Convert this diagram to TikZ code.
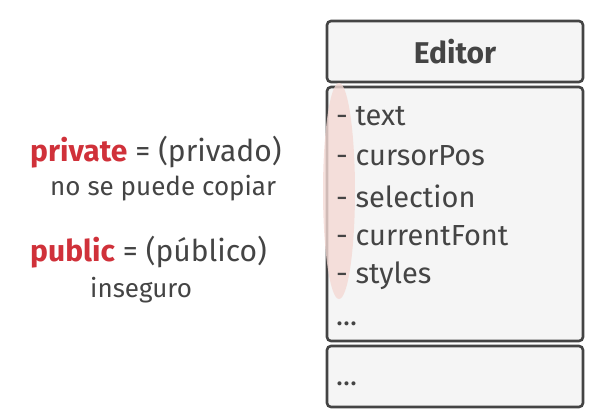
\documentclass[tikz,border=0pt]{standalone}
\usepackage{fontspec}
\setmainfont{Fira Sans}
\usetikzlibrary{positioning}

\definecolor{ink}{HTML}{444444}
\definecolor{boxfill}{HTML}{F5F5F5}
\definecolor{keyred}{HTML}{D0313A}
\definecolor{marker}{HTML}{F4D9D4}

\tikzset{
    umlpart/.style={draw=ink, line width=2.6pt, fill=boxfill, rounded corners=4pt},
    attr/.style={anchor=west, text=ink, font=\fontsize{29}{32}\selectfont, inner sep=0pt},
    note/.style={anchor=west, text=ink, inner sep=0pt}
}

\begin{document}
\begin{tikzpicture}[x=1pt, y=-1pt]

    \useasboundingbox (0,0) rectangle (600,420);

    % Draw class box parts
    \draw[umlpart] (327,21) rectangle (583,82) node[midway, text=ink, font=\bfseries\fontsize{30}{34}\selectfont] (title) {Editor};
    \draw[umlpart] (327,87) rectangle (583,341);
    \draw[umlpart] (327,346) rectangle (583,407);

    % Highlight of the private fields
    \fill[marker, opacity=0.8] (339,191) ellipse (16 and 108);

    % Draw fields
    \node[attr] (text) at (336,116) {- text};
    \node[attr] (cursor) at (336,156) {- cursorPos};
    \node[attr] (selection) at (336,196) {- selection};
    \node[attr] (font) at (336,236) {- currentFont};
    \node[attr] (styles) at (336,276) {- styles};
    \node[attr] (more) at (336,324) {...};
    \node[attr] (methods) at (336,384) {...};

    % Draw legend
    \node[note, font=\fontsize{30}{34}\selectfont] (private) at (30,152) {\textcolor{keyred}{\bfseries private} = (privado)};
    \node[note, font=\fontsize{26}{30}\selectfont] (nocopy) at (50,188) {no se puede copiar};
    \node[note, font=\fontsize{30}{34}\selectfont] (public) at (30,252) {\textcolor{keyred}{\bfseries public} = (público)};
    \node[note, font=\fontsize{26}{30}\selectfont] (unsafe) at (90,290) {inseguro};

\end{tikzpicture}
\end{document}
